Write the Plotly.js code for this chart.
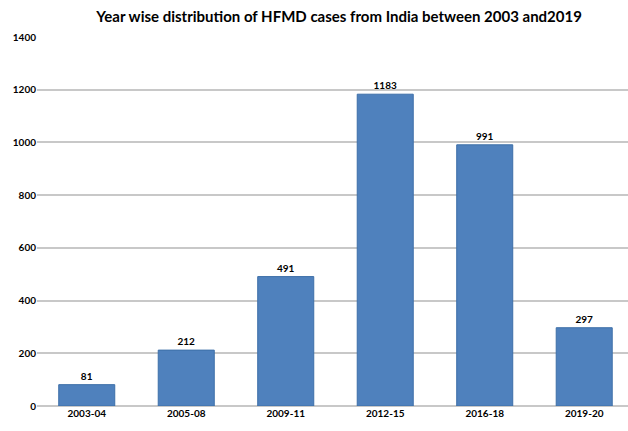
<!DOCTYPE html>
<html><head><meta charset="utf-8">
<script src="https://cdn.plot.ly/plotly-3.0.1.min.js"></script>
<style>html,body{margin:0;padding:0;background:#fff}#chart{width:628px;height:431px}</style>
</head><body><div id="chart"></div>
<script>
const categories = ["2003-04","2005-08","2009-11","2012-15","2016-18","2019-20"];
const cases = [81,212,491,1183,991,297];
const yTicks = [0,200,400,600,800,1000,1200,1400];

const trace = {
  type: "bar", x: categories, y: cases,
  text: cases.map(String), textposition: "outside", cliponaxis: false,
  textfont: {family: "Lato, sans-serif", size: 10, color: "#000", weight: "bold"},
  marker: {color: "#4F81BD", line: {color: "#3d6fa8", width: 1}},
  hoverinfo: "x+y"
};
const layout = {
  width: 628, height: 431,
  margin: {l: 37, r: 0, t: 37, b: 25},
  paper_bgcolor: "#fff", plot_bgcolor: "#fff",
  bargap: 0.437,
  title: {text: "<b>Year wise distribution of HFMD cases from India between 2003 and2019</b>",
    x: 0.54, xanchor: "center", y: 0.96, yanchor: "middle",
    font: {family: "Lato, sans-serif", size: 15, color: "#000"}},
  xaxis: {type: "category", range: [-0.5, 5.44], tickfont: {family: "Lato, sans-serif", size: 10, color: "#000", weight: "bold"},
    showgrid: false, showline: false, ticks: ""},
  yaxis: {range: [0,1400], tickvals: yTicks, ticktext: yTicks.map(String),
    tickfont: {family: "Lato, sans-serif", size: 10, color: "#000", weight: "bold"},
    showgrid: true, gridcolor: "#c8c8c8", gridwidth: 2, zeroline: true, zerolinecolor: "#c8c8c8", zerolinewidth: 2,
    showline: false, ticks: "", ticklen: 0},
  showlegend: false
};
Plotly.newPlot("chart", [trace], layout, {displayModeBar: false, staticPlot: true});
</script></body></html>
